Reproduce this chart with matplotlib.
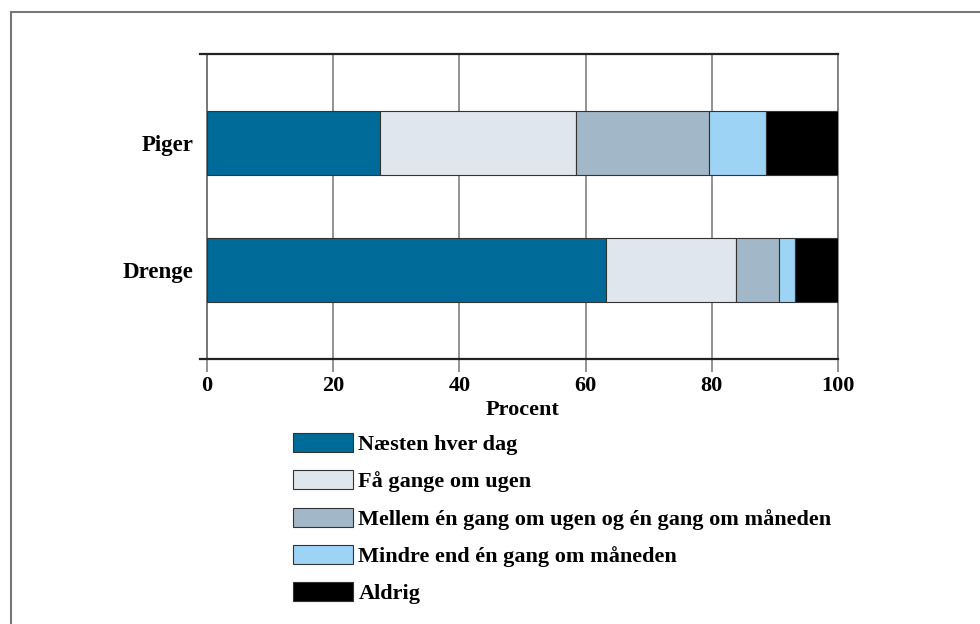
import matplotlib
matplotlib.use('Agg')
import matplotlib.pyplot as plt
from matplotlib.patches import Patch
import matplotlib.transforms as mtransforms

# data
groups = ['Drenge', 'Piger']
categories = ['Næsten hver dag', 'Få gange om ugen',
              'Mellem én gang om ugen og én gang om måneden',
              'Mindre end én gang om måneden', 'Aldrig']
drenge = [63.2, 20.6, 6.8, 2.6, 6.8]
piger = [27.4, 31.1, 21.0, 9.1, 11.4]
colors = ['#006a99', '#dfe6ee', '#a2b8c8', '#9dd3f5', '#000000']

plt.rcParams['font.family'] = ['Liberation Serif', 'DejaVu Serif']

fig = plt.figure(figsize=(9.8, 6.24), dpi=100)
ax = fig.add_axes([0.2112, 0.4247, 0.8551 - 0.2112, 0.9135 - 0.4247])

values = [drenge, piger]
for i in range(len(categories)):
    lefts = [sum(v[:i]) for v in values]
    widths = [v[i] for v in values]
    ax.barh(range(len(groups)), widths, left=lefts, height=0.5,
            color=colors[i], edgecolor='#333333', linewidth=0.8,
            label=categories[i], zorder=3)

ax.set_xlim(0, 100)
ax.set_ylim(-0.7, 1.7)
ax.set_xticks([0, 20, 40, 60, 80, 100])
ax.set_yticks(range(len(groups)))
ax.set_yticklabels(groups)
ax.xaxis.grid(True, color='#808080', linewidth=1.2, zorder=0)
ax.set_axisbelow(True)

ax.tick_params(axis='x', direction='out', length=9, width=1.2, color='#808080',
               pad=3, labelsize=16)
ax.tick_params(axis='y', length=0, pad=10, labelsize=16.5)
for lab in ax.get_xticklabels():
    lab.set_fontweight('bold')
for lab in ax.get_yticklabels():
    lab.set_fontweight('bold')

ax.spines['top'].set_visible(False)
ax.spines['bottom'].set_visible(False)
ax.spines['left'].set_color('#777777')
ax.spines['left'].set_linewidth(1.4)
ax.spines['right'].set_color('#777777')
ax.spines['right'].set_linewidth(1.2)

# top and bottom rules overshoot the left spine a little
trans = mtransforms.blended_transform_factory(ax.transAxes, ax.transAxes)
for yy in (0, 1):
    ax.plot([-0.011, 1.0], [yy, yy], transform=trans, color='#222222',
            linewidth=1.6, clip_on=False, zorder=5)

ax.set_xlabel('Procent', fontsize=16, fontweight='bold', labelpad=3)

handles = [Patch(facecolor=c, edgecolor='#333333', linewidth=0.8) for c in colors]
fig.legend(handles, categories, loc='upper left',
           bbox_to_anchor=(284 / 980, 1 - 424 / 624), frameon=False,
           handlelength=2.7, handleheight=0.95,
           handletextpad=0.25, labelspacing=0.68, borderaxespad=0,
           prop={'weight': 'bold', 'size': 16})

# outer frame (top and left edges visible)
fig.add_artist(plt.Line2D([11 / 980, 1.0], [1 - 12 / 624, 1 - 12 / 624],
                          transform=fig.transFigure, color='#777777', linewidth=1.5))
fig.add_artist(plt.Line2D([11 / 980, 11 / 980], [0, 1 - 12 / 624],
                          transform=fig.transFigure, color='#777777', linewidth=1.5))

fig.savefig('out.png', dpi=100)
